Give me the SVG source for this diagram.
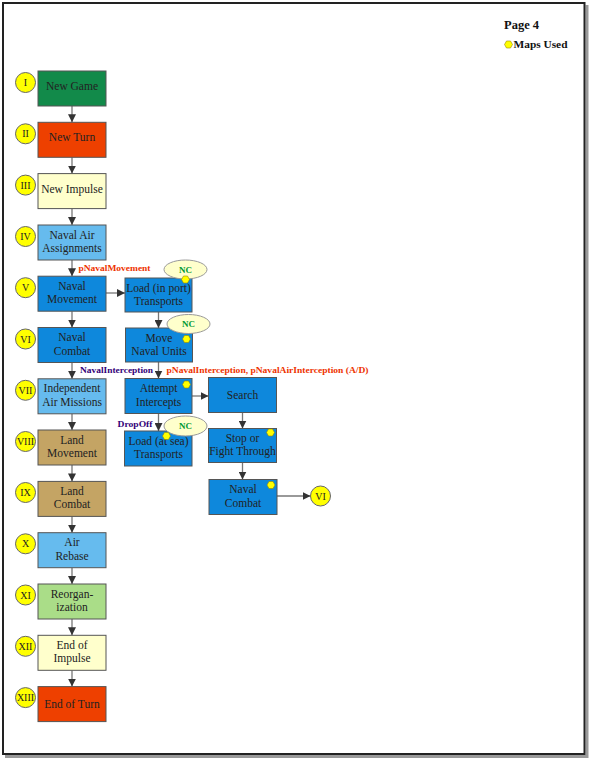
<svg xmlns="http://www.w3.org/2000/svg" xmlns:xlink="http://www.w3.org/1999/xlink" width="589" height="759" viewBox="0 0 589 759">
<style>
.box{stroke:#555;stroke-width:1}
.t{font-family:"Liberation Serif","Times New Roman",serif;font-size:11.5px;fill:#222;text-anchor:middle}
.rn{font-family:"Liberation Serif","Times New Roman",serif;font-size:10px;fill:#222;text-anchor:middle}
.cir{fill:#ffff00;stroke:#666;stroke-width:1}
.con{stroke:#777;stroke-width:1.3;fill:none;marker-end:url(#ah)}
.lbl{font-family:"Liberation Serif","Times New Roman",serif;font-size:9px;font-weight:bold}
.red{fill:#ee3300}
.pur{fill:#330077}
.nc{fill:#ffffcc;stroke:#999;stroke-width:1}
.nct{font-family:"Liberation Serif","Times New Roman",serif;font-size:9px;font-weight:bold;fill:#009933;text-anchor:middle}
.green{fill:#128a4a}
.orange{fill:#ee4000}
.cream{fill:#ffffcc}
.lblue{fill:#66bbee}
.blue{fill:#0e88dc}
.tan{fill:#c4a464}
.lgreen{fill:#aadd88}
</style>
<defs>
<marker id="ah" viewBox="0 0 8 8" refX="8" refY="4" markerWidth="8" markerHeight="8" markerUnits="userSpaceOnUse" orient="auto">
<path d="M0,0 L8,4 L0,8 Z" fill="#333"/>
</marker>
<path id="hex" d="M-2,-3.5 L2,-3.5 L4,0 L2,3.5 L-2,3.5 L-4,0 Z" fill="#ffff00" stroke="#998800" stroke-width="0.6"/>
</defs>
<rect x="0" y="0" width="589" height="759" fill="#ffffff"/>
<rect x="585.5" y="5" width="3" height="753" fill="#999"/>
<rect x="5" y="755" width="583" height="3" fill="#999"/>
<rect x="3" y="3" width="581.5" height="751" fill="#ffffff" stroke="#222" stroke-width="2"/>

<g id="legend">
<text x="504" y="29" style="font-family:'Liberation Serif','Times New Roman',serif;font-size:12.5px;font-weight:bold;fill:#111">Page 4</text>
<use xlink:href="#hex" x="508.5" y="44.5"/>
<text x="513.5" y="47.5" textLength="54" lengthAdjust="spacingAndGlyphs" style="font-family:'Liberation Serif','Times New Roman',serif;font-size:10px;font-weight:bold;fill:#111">Maps Used</text>
</g>

<g id="connectors">
<line class="con" x1="72" y1="106" x2="72" y2="122.3"/>
<line class="con" x1="72" y1="157.3" x2="72" y2="173.6"/>
<line class="con" x1="72" y1="208.6" x2="72" y2="225"/>
<line class="con" x1="72" y1="260" x2="72" y2="276.2"/>
<line class="con" x1="72" y1="311.2" x2="72" y2="327.5"/>
<line class="con" x1="72" y1="362.5" x2="72" y2="378.8"/>
<line class="con" x1="72" y1="413.8" x2="72" y2="430"/>
<line class="con" x1="72" y1="465" x2="72" y2="481.4"/>
<line class="con" x1="72" y1="516.4" x2="72" y2="532.7"/>
<line class="con" x1="72" y1="567.7" x2="72" y2="584"/>
<line class="con" x1="72" y1="619" x2="72" y2="635.3"/>
<line class="con" x1="72" y1="670.3" x2="72" y2="686.6"/>
<line class="con" x1="106" y1="293" x2="125" y2="293"/>
<line class="con" x1="158.5" y1="312" x2="158.5" y2="328"/>
<line class="con" x1="158.5" y1="362" x2="158.5" y2="378.5"/>
<line class="con" x1="158.5" y1="413.5" x2="158.5" y2="431"/>
<line class="con" x1="192" y1="396" x2="208.5" y2="396"/>
<line class="con" x1="242.5" y1="412.5" x2="242.5" y2="428.5"/>
<line class="con" x1="242.5" y1="462.5" x2="242.5" y2="479.5"/>
<line class="con" x1="277" y1="496" x2="310.5" y2="496"/>
</g>

<g id="labels">
<text class="lbl red" x="78.5" y="270.5" textLength="72" lengthAdjust="spacingAndGlyphs">pNavalMovement</text>
<text class="lbl pur" x="80" y="372.5" textLength="73" lengthAdjust="spacingAndGlyphs">NavalInterception</text>
<text class="lbl red" x="166.5" y="372.5" textLength="202" lengthAdjust="spacingAndGlyphs">pNavalInterception, pNavalAirInterception (A/D)</text>
<text class="lbl pur" x="117.5" y="426.5" textLength="35" lengthAdjust="spacingAndGlyphs">DropOff</text>
</g>

<g id="n1"><circle class="cir" cx="25.5" cy="82.5" r="10"/><text class="rn" x="25.5" y="86">I</text><rect class="box green" x="38" y="71" width="68" height="35"/><text class="t" x="72" y="90">New Game</text></g>
<g id="n2"><circle class="cir" cx="25.5" cy="133.8" r="10"/><text class="rn" x="25.5" y="137.3">II</text><rect class="box orange" x="38" y="122.3" width="68" height="35"/><text class="t" x="72" y="141.3">New Turn</text></g>
<g id="n3"><circle class="cir" cx="25.5" cy="185.1" r="10"/><text class="rn" x="25.5" y="188.6">III</text><rect class="box cream" x="38" y="173.6" width="68" height="35"/><text class="t" x="72" y="192.6">New Impulse</text></g>
<g id="n4"><circle class="cir" cx="25.5" cy="236.5" r="10"/><text class="rn" x="25.5" y="240">IV</text><rect class="box lblue" x="38" y="225" width="68" height="35"/><text class="t" x="72" y="238.5">Naval Air</text><text class="t" x="72" y="252">Assignments</text></g>
<g id="n5"><circle class="cir" cx="25.5" cy="287.7" r="10"/><text class="rn" x="25.5" y="291.2">V</text><rect class="box blue" x="38" y="276.2" width="68" height="35"/><text class="t" x="72" y="289.7">Naval</text><text class="t" x="72" y="303.2">Movement</text></g>
<g id="n6"><circle class="cir" cx="25.5" cy="339" r="10"/><text class="rn" x="25.5" y="342.5">VI</text><rect class="box blue" x="38" y="327.5" width="68" height="35"/><text class="t" x="72" y="341">Naval</text><text class="t" x="72" y="354.5">Combat</text></g>
<g id="n7"><circle class="cir" cx="25.5" cy="390.3" r="10"/><text class="rn" x="25.5" y="393.8">VII</text><rect class="box lblue" x="38" y="378.8" width="68" height="35"/><text class="t" x="72" y="392.3">Independent</text><text class="t" x="72" y="405.8">Air Missions</text></g>
<g id="n8"><circle class="cir" cx="25.5" cy="441.5" r="10"/><text class="rn" x="25.5" y="445">VIII</text><rect class="box tan" x="38" y="430" width="68" height="35"/><text class="t" x="72" y="443.5">Land</text><text class="t" x="72" y="457">Movement</text></g>
<g id="n9"><circle class="cir" cx="25.5" cy="492.5" r="10"/><text class="rn" x="25.5" y="496">IX</text><rect class="box tan" x="38" y="481.4" width="68" height="35"/><text class="t" x="72" y="494.9">Land</text><text class="t" x="72" y="508.4">Combat</text></g>
<g id="n10"><circle class="cir" cx="25.5" cy="543.8" r="10"/><text class="rn" x="25.5" y="547.3">X</text><rect class="box lblue" x="38" y="532.7" width="68" height="35"/><text class="t" x="72" y="546.2">Air</text><text class="t" x="72" y="559.7">Rebase</text></g>
<g id="n11"><circle class="cir" cx="25.5" cy="595" r="10"/><text class="rn" x="25.5" y="598.5">XI</text><rect class="box lgreen" x="38" y="584" width="68" height="35"/><text class="t" x="72" y="597.5">Reorgan-</text><text class="t" x="72" y="611">ization</text></g>
<g id="n12"><circle class="cir" cx="25.5" cy="646.3" r="10"/><text class="rn" x="25.5" y="649.8">XII</text><rect class="box cream" x="38" y="635.3" width="68" height="35"/><text class="t" x="72" y="648.8">End of</text><text class="t" x="72" y="662.3">Impulse</text></g>
<g id="n13"><circle class="cir" cx="25.5" cy="697.6" r="10"/><text class="rn" x="25.5" y="701.1">XIII</text><rect class="box orange" x="38" y="686.6" width="68" height="35"/><text class="t" x="72" y="707.6">End of Turn</text></g>

<g id="m1"><rect class="box blue" x="125" y="278" width="67" height="34"/><text class="t" x="158.5" y="291.5">Load (in port)</text><text class="t" x="158.5" y="305">Transports</text><ellipse class="nc" cx="185.5" cy="269.5" rx="21.5" ry="9.5"/><text class="nct" x="185.5" y="272.5">NC</text><use xlink:href="#hex" x="185.5" y="279.5"/></g>
<g id="m2"><rect class="box blue" x="125.5" y="328" width="67" height="34"/><text class="t" x="159" y="341.5">Move</text><text class="t" x="159" y="355">Naval Units</text><ellipse class="nc" cx="188.5" cy="324" rx="21.5" ry="9.5"/><text class="nct" x="188.5" y="327">NC</text><use xlink:href="#hex" x="186.5" y="339"/></g>
<g id="m3"><rect class="box blue" x="125" y="378.5" width="67" height="35"/><text class="t" x="158.5" y="392">Attempt</text><text class="t" x="158.5" y="405.5">Intercepts</text><use xlink:href="#hex" x="186.5" y="384.5"/></g>
<g id="m4"><rect class="box blue" x="124.5" y="431" width="67.5" height="35"/><text class="t" x="158.5" y="444.5">Load (at sea)</text><text class="t" x="158.5" y="458">Transports</text><ellipse class="nc" cx="185.5" cy="426" rx="21.5" ry="10"/><text class="nct" x="185.5" y="429">NC</text><use xlink:href="#hex" x="166.5" y="436"/></g>
<g id="r1"><rect class="box blue" x="208.5" y="377.5" width="68" height="35"/><text class="t" x="242.5" y="399">Search</text></g>
<g id="r2"><rect class="box blue" x="208.5" y="428.5" width="68" height="34"/><text class="t" x="242.5" y="441.5">Stop or</text><text class="t" x="242.5" y="455">Fight Through</text><use xlink:href="#hex" x="270.5" y="432.5"/></g>
<g id="r3"><rect class="box blue" x="209" y="479.5" width="68" height="35"/><text class="t" x="243" y="493">Naval</text><text class="t" x="243" y="506.5">Combat</text><use xlink:href="#hex" x="271" y="485"/></g>
<g id="r4"><circle class="cir" cx="320.5" cy="496" r="10"/><text class="rn" x="320.5" y="499.5">VI</text></g>
</svg>
